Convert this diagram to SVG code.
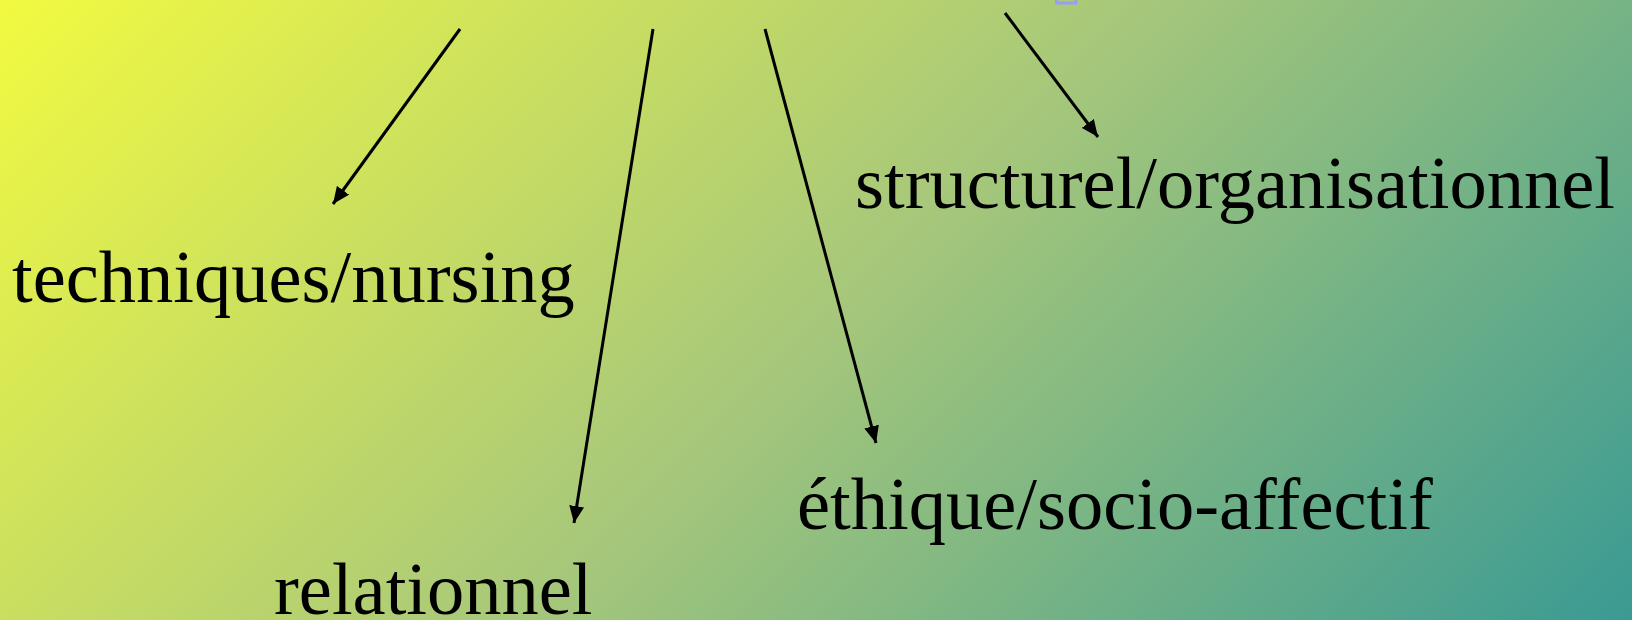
<svg xmlns="http://www.w3.org/2000/svg" width="1632" height="620" viewBox="0 0 1632 620">
<defs>
<linearGradient id="bg" gradientUnits="userSpaceOnUse" x1="0" y1="0" x2="1126" y2="1126">
<stop offset="0" stop-color="#f2fa40"/>
<stop offset="0.5" stop-color="#a8c87a"/>
<stop offset="1" stop-color="#3a9a93"/>
</linearGradient>
<marker id="ah" viewBox="0 0 17 15" refX="17" refY="7.5" markerWidth="17" markerHeight="15" markerUnits="userSpaceOnUse" orient="auto">
<path d="M0,0 L17,7.5 L0,15 z" fill="#000"/>
</marker>
<style>
.lbl{font-family:"Liberation Serif","Times New Roman",serif;font-size:74.5px;fill:#000}
.conn line{stroke:#000;stroke-width:3;marker-end:url(#ah)}
</style>
</defs>
<rect x="0" y="0" width="1632" height="620" fill="url(#bg)"/>
<rect x="1056.5" y="-5" width="19.5" height="8" fill="none" stroke="#9c9cf8" stroke-width="3"/>
<g class="conn" id="connectors">
<line x1="460" y1="29" x2="333" y2="204"/>
<line x1="653" y1="29" x2="574" y2="523"/>
<line x1="765" y1="29" x2="876" y2="443"/>
<line x1="1005" y1="13" x2="1098" y2="137"/>
</g>
<g id="n1"><text class="lbl" x="12" y="302">techniques/nursing</text></g>
<g id="n2"><text class="lbl" x="274" y="614">relationnel</text></g>
<g id="n3"><text class="lbl" x="797" y="529">éthique/socio-affectif</text></g>
<g id="n4"><text class="lbl" x="855" y="208">structurel/organisationnel</text></g>
</svg>
